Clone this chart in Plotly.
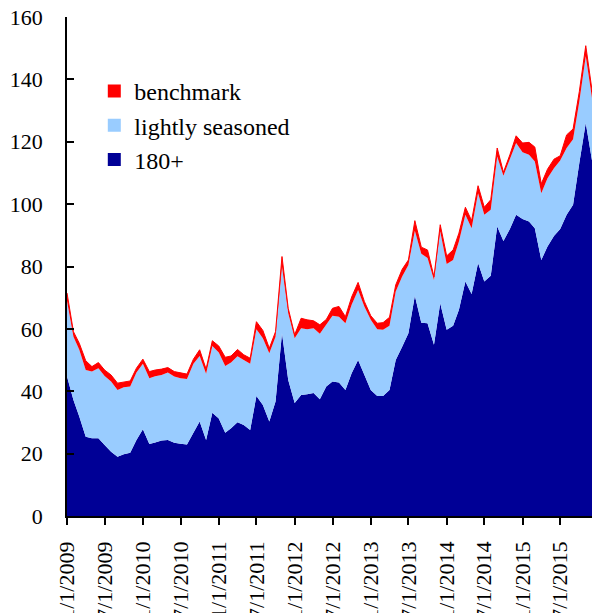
import pandas as pd
import plotly.graph_objects as go

months = pd.date_range("2009-01-01", "2015-12-01", freq="MS")

seasoned_180 = [
    44.7, 37.2, 31.9, 25.4, 24.9, 24.9, 22.8, 20.6, 19.0, 19.8, 20.3, 24.4,
    27.8, 23.1, 23.6, 24.2, 24.4, 23.5, 23.2, 22.9, 26.7, 30.3, 24.4, 33.1,
    31.3, 26.7, 28.1, 30.1, 29.2, 27.6, 38.5, 35.6, 30.3, 36.7, 58.6, 43.6,
    36.2, 38.8, 39.0, 39.4, 37.4, 41.5, 43.1, 42.8, 40.4, 45.8, 50.0, 45.2,
    40.4, 38.5, 38.5, 40.4, 50.0, 54.3, 58.6, 70.6, 62.0, 61.8, 54.9, 68.2,
    59.7, 61.0, 66.1, 75.2, 71.2, 81.1, 75.2, 77.0, 92.8, 88.2, 92.0, 96.6,
    95.2, 94.4, 92.3, 82.1, 86.4, 89.8, 92.0, 96.6, 99.8, 113.2, 126.0, 114.0,
]
lightly_seasoned = [
    24.3, 20.3, 21.4, 21.4, 21.4, 22.5, 22.1, 22.5, 21.4, 21.5, 21.2, 21.6,
    21.0, 21.1, 21.2, 21.0, 21.6, 21.2, 21.0, 21.0, 22.1, 21.0, 21.2, 21.4,
    21.1, 21.4, 21.1, 21.1, 20.8, 21.2, 21.4, 21.4, 21.9, 20.8, 21.4, 21.4,
    20.8, 21.4, 20.9, 20.8, 21.0, 19.8, 21.1, 21.1, 21.4, 21.9, 22.5, 22.0,
    22.5, 21.4, 21.2, 20.6, 22.0, 22.5, 21.9, 20.9, 22.1, 20.9, 20.8, 23.0,
    21.1, 21.1, 21.9, 21.4, 21.1, 22.4, 21.4, 21.2, 22.5, 20.9, 22.2, 23.0,
    21.4, 21.4, 21.4, 21.4, 21.9, 21.7, 22.0, 21.4, 21.0, 19.7, 21.4, 20.0,
]
benchmark = [
    2.5, 1.6, 2.1, 3.0, 1.6, 1.8, 1.9, 2.1, 2.2, 1.6, 1.8, 1.4,
    1.5, 2.1, 2.0, 1.9, 1.6, 1.6, 1.6, 1.6, 1.5, 2.0, 1.5, 1.7,
    2.1, 2.8, 2.1, 2.2, 1.7, 1.8, 2.4, 2.5, 1.6, 1.6, 3.2, 1.6,
    1.1, 3.2, 3.0, 2.4, 2.9, 1.7, 2.4, 3.3, 2.1, 2.5, 2.4, 1.6,
    1.3, 1.9, 2.3, 2.7, 2.1, 2.3, 1.6, 3.2, 2.1, 2.6, 1.0, 2.2,
    2.6, 3.2, 2.7, 2.4, 2.4, 2.4, 2.4, 3.2, 2.7, 1.1, 1.6, 2.3,
    3.0, 4.0, 4.6, 3.0, 2.9, 2.9, 1.5, 4.2, 3.3, 3.2, 3.4, 2.5,
]

tick_dates = pd.date_range("2009-01-01", "2015-07-01", freq="6MS")
tick_text = [f"{d.month}/1/{d.year}" for d in tick_dates]

series = [
    ("180+", seasoned_180, "#000096", 0),
    ("lightly seasoned", lightly_seasoned, "#99CCFF", 0),
    ("benchmark", benchmark, "#FF0000", 1),
]

fig = go.Figure()
for name, vals, color, lw in series:
    fig.add_trace(go.Scatter(
        x=months, y=vals, name=name, stackgroup="one", mode="lines",
        line=dict(width=lw, color=color), fillcolor=color, showlegend=False,
        hoverinfo="x+y",
    ))

# square legend swatches
for name, vals, color, lw in reversed(series):
    fig.add_trace(go.Scatter(
        x=[None], y=[None], name=name, mode="markers", legendgroup=name,
        marker=dict(symbol="square", size=13, color=color),
    ))

font = "Times New Roman, Liberation Serif, serif"
fig.update_layout(
    width=592, height=613,
    margin=dict(l=67, r=0, t=17, b=97, autoexpand=False),
    paper_bgcolor="white", plot_bgcolor="white",
    font=dict(family=font, size=22, color="black"),
    legend=dict(
        x=0.052, y=0.896, xanchor="left", yanchor="top",
        bgcolor="rgba(0,0,0,0)", font=dict(family=font, size=24),
        traceorder="grouped", tracegroupgap=0, itemwidth=30,
    ),
)
fig.update_xaxes(
    type="date", range=["2009-01-01", "2015-12-01"],
    tickvals=tick_dates, ticktext=tick_text, tickangle=-90,
    ticks="outside", ticklen=7, tickwidth=1.5, tickcolor="black",
    showline=True, linecolor="black", linewidth=1.5, automargin=False,
    showgrid=False, zeroline=False, ticklabelstandoff=8,
    tickfont=dict(family=font, size=22), ticklabeloverflow="allow",
)
fig.update_yaxes(
    range=[0, 160], tickvals=list(range(0, 161, 20)),
    ticks="inside", ticklen=7, tickwidth=1.5, tickcolor="black",
    showline=True, linecolor="black", linewidth=1.5, automargin=False,
    showgrid=False, zeroline=False, ticklabelstandoff=18,
    tickfont=dict(family=font, size=22), ticklabeloverflow="allow",
)

# drop the default page margin and scrollbars so the figure fills the window
fig.write_html(
    "out.html",
    config={"displayModeBar": False},
    post_script="document.body.style.margin='0';document.body.style.overflow='hidden';",
)
